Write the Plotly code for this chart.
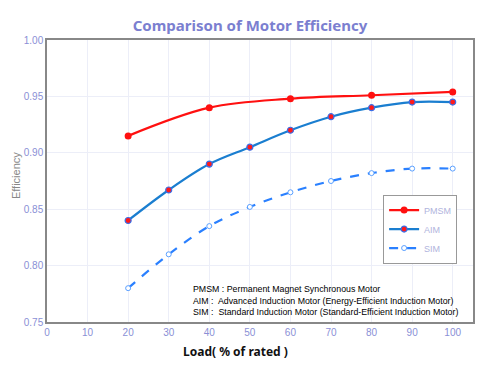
import plotly.graph_objects as go

x_pmsm = [20, 40, 60, 80, 100]
pmsm = [0.915, 0.940, 0.948, 0.951, 0.954]
x_load = [20, 30, 40, 50, 60, 70, 80, 90, 100]
aim = [0.840, 0.867, 0.890, 0.905, 0.920, 0.932, 0.940, 0.945, 0.945]
sim = [0.780, 0.810, 0.835, 0.852, 0.865, 0.875, 0.882, 0.886, 0.886]
x_ticks = [0, 10, 20, 30, 40, 50, 60, 70, 80, 90, 100]
y_ticks = [0.75, 0.80, 0.85, 0.90, 0.95, 1.00]
notes = [
    "PMSM : Permanent Magnet Synchronous Motor",
    "AIM :  Advanced Induction Motor (Energy-Efficient Induction Motor)",
    "SIM :  Standard Induction Motor (Standard-Efficient Induction Motor)",
]
note_y = [0.117, 0.0745, 0.0355]

lav = "#8a8fd6"
fig = go.Figure()
fig.add_trace(go.Scatter(x=x_pmsm, y=pmsm, name="PMSM", mode="lines+markers",
                         line=dict(color="#ff1010", width=2.2, shape="spline"),
                         marker=dict(color="#ff1010", size=7)))
fig.add_trace(go.Scatter(x=x_load, y=aim, name="AIM", mode="lines+markers",
                         line=dict(color="#1a7ed0", width=2.2, shape="spline"),
                         marker=dict(color="#ff1a1a", size=6, line=dict(color="#3a6ee8", width=1.2))))
fig.add_trace(go.Scatter(x=x_load, y=sim, name="SIM", mode="lines+markers",
                         line=dict(color="#2a80ff", width=2.2, dash="dash", shape="spline"),
                         marker=dict(color="white", size=5, line=dict(color="#5aa0ff", width=1))))

for t, yy in zip(notes, note_y):
    fig.add_annotation(text=t, xref="paper", yref="paper", x=0.338, y=yy,
                       xanchor="left", yanchor="middle", showarrow=False,
                       font=dict(family="Liberation Sans", size=8.8, color="#000000"))

# axis titles as annotations (placed like the reference)
fig.add_annotation(text="<b>Load( % of rated )</b>", xref="paper", yref="paper", x=0.442, y=-0.105,
                   xanchor="center", yanchor="middle", showarrow=False,
                   font=dict(family="Noto Sans, Liberation Sans", size=12, color="#111111"))
fig.add_annotation(text="Efficiency", xref="paper", yref="paper", x=-0.071, y=0.52,
                   xanchor="center", yanchor="middle", showarrow=False, textangle=-90,
                   font=dict(family="Liberation Sans", size=11, color="#888888"))

fig.update_layout(
    width=492, height=357,
    margin=dict(l=39, r=27, t=32, b=43),
    paper_bgcolor="white", plot_bgcolor="white",
    title=dict(text="<b>Comparison of Motor Efficiency</b>", x=0.492, xref="container", xanchor="center",
               y=1 - 18 / 357, yanchor="middle",
               font=dict(family="Noto Sans, Liberation Sans", size=15, color="#7b7fd0")),
    xaxis=dict(range=[0, 105], tickvals=x_ticks, showgrid=True, gridcolor="#eceef8", automargin=False,
               showline=True, linecolor="#888888", linewidth=1.5, mirror=True, zeroline=False,
               tickfont=dict(family="Liberation Sans", size=10, color=lav), ticks=""),
    yaxis=dict(range=[0.75, 1.0], tickvals=y_ticks, tickformat=".2f", showgrid=True, gridcolor="#eceef8",
               automargin=False,
               showline=True, linecolor="#888888", linewidth=1.5, mirror=True, zeroline=False,
               tickfont=dict(family="Liberation Sans", size=10, color=lav), ticks=""),
    legend=dict(x=0.789, y=0.452, xanchor="left", yanchor="top", bgcolor="white",
                bordercolor="#999999", borderwidth=1, font=dict(family="Liberation Sans", size=9, color="#b0b4dd"),
                itemwidth=30),
    showlegend=True,
)
fig.write_html("out.html")
